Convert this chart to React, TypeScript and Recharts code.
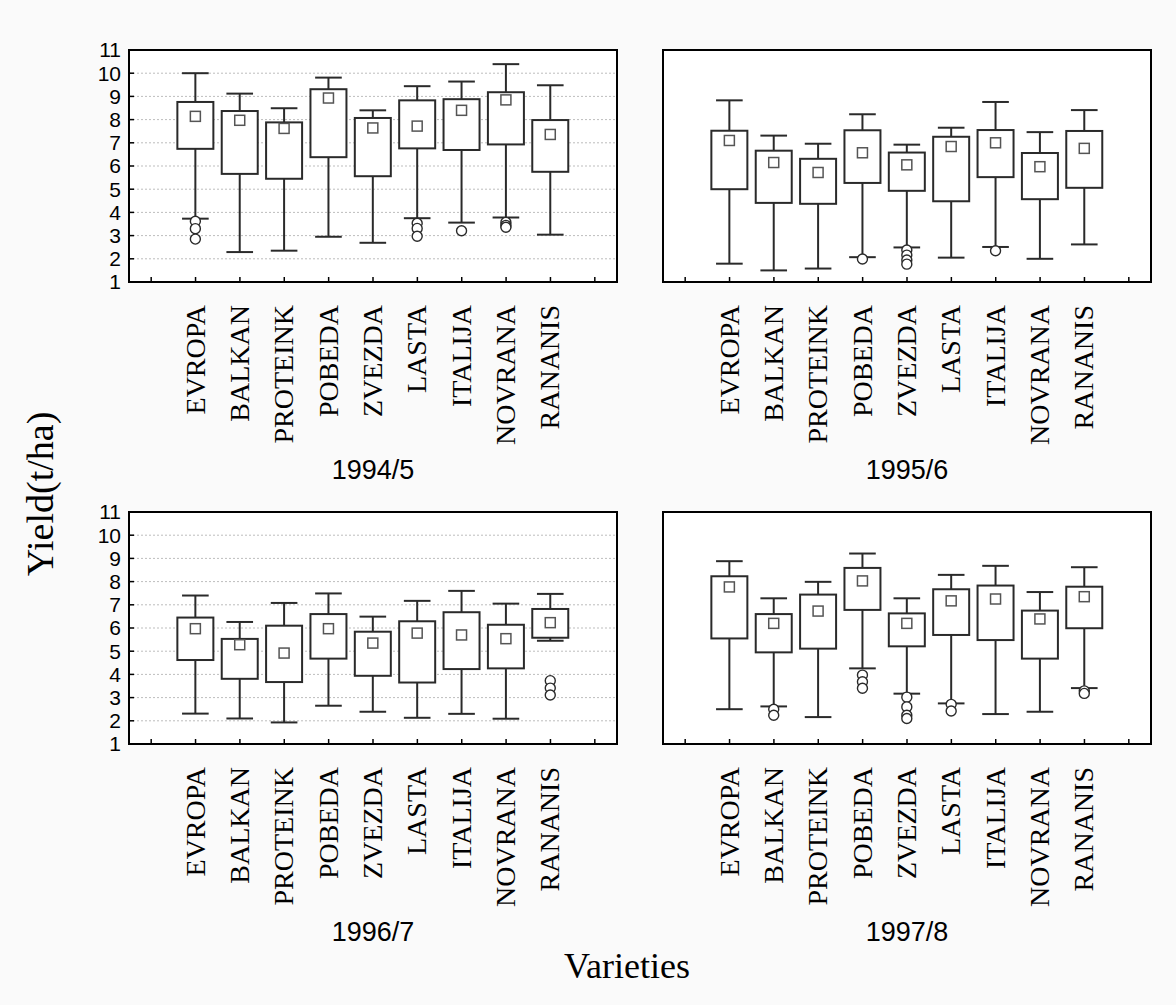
import React from 'react';
import { ComposedChart, Bar, XAxis, YAxis, CartesianGrid } from 'recharts';

const varieties = ['EVROPA', 'BALKAN', 'PROTEINK', 'POBEDA', 'ZVEZDA', 'LASTA', 'ITALIJA', 'NOVRANA', 'RANANIS'];
const seasons = ['1994/5', '1995/6', '1996/7', '1997/8'];
const yTicks = [1, 2, 3, 4, 5, 6, 7, 8, 9, 10, 11];

// one row per season, one value per variety
const whiskerHigh = [
  [10.0, 9.12, 8.49, 9.81, 8.4, 9.44, 9.64, 10.39, 9.48],
  [8.83, 7.31, 6.96, 8.23, 6.92, 7.65, 8.76, 7.46, 8.41],
  [7.4, 6.26, 7.08, 7.49, 6.49, 7.17, 7.6, 7.05, 7.47],
  [8.88, 7.28, 7.99, 9.21, 7.28, 8.29, 8.68, 7.55, 8.62],
];
const q3 = [
  [8.76, 8.37, 7.88, 9.31, 8.07, 8.83, 8.88, 9.18, 7.98],
  [7.52, 6.66, 6.31, 7.54, 6.58, 7.26, 7.55, 6.56, 7.51],
  [6.45, 5.53, 6.1, 6.6, 5.84, 6.29, 6.68, 6.14, 6.82],
  [8.23, 6.6, 7.44, 8.59, 6.63, 7.67, 7.83, 6.75, 7.78],
];
const means = [
  [8.14, 7.97, 7.62, 8.93, 7.64, 7.72, 8.4, 8.85, 7.36],
  [7.1, 6.15, 5.72, 6.57, 6.05, 6.84, 7.0, 5.97, 6.76],
  [5.97, 5.28, 4.92, 5.97, 5.35, 5.78, 5.7, 5.54, 6.23],
  [7.77, 6.2, 6.73, 8.03, 6.2, 7.17, 7.25, 6.39, 7.35],
];
const q1 = [
  [6.74, 5.66, 5.45, 6.38, 5.56, 6.76, 6.69, 6.93, 5.75],
  [5.0, 4.41, 4.37, 5.27, 4.93, 4.48, 5.52, 4.57, 5.06],
  [4.62, 3.81, 3.67, 4.68, 3.94, 3.65, 4.23, 4.26, 5.58],
  [5.55, 4.95, 5.11, 6.78, 5.21, 5.7, 5.48, 4.68, 5.99],
];
const whiskerLow = [
  [3.73, 2.29, 2.35, 2.95, 2.69, 3.75, 3.56, 3.78, 3.04],
  [1.79, 1.5, 1.58, 2.07, 2.49, 2.05, 2.51, 2.0, 2.62],
  [2.31, 2.1, 1.93, 2.65, 2.39, 2.13, 2.3, 2.09, 5.45],
  [2.5, 2.62, 2.16, 4.26, 3.17, 2.75, 2.29, 2.39, 3.41],
];
const outliers = [
  [[3.62, 3.3, 2.85], [], [], [], [], [3.53, 3.31, 2.97], [3.21], [3.57, 3.44, 3.36], []],
  [[], [], [], [1.99], [2.38, 2.16, 1.95, 1.77], [], [2.35], [], []],
  [[], [], [], [], [], [], [], [], [3.73, 3.41, 3.11]],
  [[], [2.5, 2.24], [], [3.97, 3.68, 3.4], [3.02, 2.6, 2.24, 2.1], [2.71, 2.42], [], [], [3.29, 3.18]],
];

const SANS = "'Liberation Sans', Arial, sans-serif";
const SERIF = "'Liberation Serif', 'Times New Roman', serif";
const INK = '#2a2a2a';

// empty category at each end, like the original axis
const buildRows = (s: number) => [
  { name: '' },
  ...varieties.map((v, i) => ({
    name: v,
    range: [whiskerLow[s][i], whiskerHigh[s][i]],
    q1: q1[s][i],
    q3: q3[s][i],
    mean: means[s][i],
    outliers: outliers[s][i],
  })),
  { name: ' ' },
];

const BoxShape = (props: any) => {
  const { x, y, width, height, payload } = props;
  if (!payload || !payload.range) return null;
  const [lo, hi] = payload.range;
  const top = Math.min(y, y + height);
  const h = Math.abs(height);
  const py = (v: number) => top + ((hi - v) * h) / (hi - lo);
  const cx = x + width / 2;
  const cap = width * 0.37;
  return (
    <g>
      <line x1={cx} x2={cx} y1={py(hi)} y2={py(payload.q3)} stroke={INK} strokeWidth={2} />
      <line x1={cx} x2={cx} y1={py(payload.q1)} y2={py(lo)} stroke={INK} strokeWidth={2} />
      <line x1={cx - cap} x2={cx + cap} y1={py(hi)} y2={py(hi)} stroke={INK} strokeWidth={2} />
      <line x1={cx - cap} x2={cx + cap} y1={py(lo)} y2={py(lo)} stroke={INK} strokeWidth={2} />
      <rect
        x={x}
        y={py(payload.q3)}
        width={width}
        height={py(payload.q1) - py(payload.q3)}
        fill="#fff"
        stroke={INK}
        strokeWidth={2}
      />
      <rect x={cx - 5} y={py(payload.mean) - 5} width={10} height={10} fill="#fff" stroke="#555" strokeWidth={1.5} />
      {payload.outliers.map((o: number, k: number) => (
        <circle key={k} cx={cx} cy={py(o)} r={5} fill="#fff" stroke={INK} strokeWidth={1.4} />
      ))}
    </g>
  );
};

const CategoryTick = (props: any) => {
  const { x, y, payload } = props;
  return (
    <text
      transform={`translate(${x + 9},${y}) rotate(-90)`}
      textAnchor="end"
      fontFamily={SERIF}
      fontSize={28}
      fill="#000"
    >
      {payload.value}
    </text>
  );
};

const frame = { stroke: '#000', strokeWidth: 2, strokeLinecap: 'square' as const };
const tickMark = { stroke: '#000', strokeWidth: 1.5 };

const Panel = ({ s, showY }: { s: number; showY: boolean }) => (
  <ComposedChart width={608} height={462} data={buildRows(s)} margin={{ top: 19, right: 9, bottom: 10, left: 50 }}>
    <CartesianGrid vertical={false} stroke="#bdbdbd" strokeDasharray="2 2" fill="#fff" />
    <XAxis
      dataKey="name"
      interval={0}
      height={200}
      tick={<CategoryTick />}
      tickSize={-5}
      tickMargin={28}
      axisLine={frame}
      tickLine={tickMark}
      stroke="#000"
    />
    <XAxis
      xAxisId="t"
      dataKey="name"
      orientation="top"
      height={1}
      interval={0}
      tick={false}
      tickSize={-5}
      axisLine={frame}
      tickLine={tickMark}
      stroke="#000"
    />
    <YAxis
      type="number"
      domain={[1, 11]}
      ticks={yTicks}
      interval={0}
      width={60}
      tick={showY ? { fill: '#000', fontSize: 21, fontFamily: SANS } : false}
      tickSize={-5}
      tickMargin={13}
      axisLine={frame}
      tickLine={tickMark}
      stroke="#000"
    />
    <YAxis
      yAxisId="r"
      orientation="right"
      type="number"
      domain={[1, 11]}
      ticks={yTicks}
      interval={0}
      width={1}
      tick={false}
      tickSize={-5}
      axisLine={frame}
      tickLine={tickMark}
      stroke="#000"
    />
    <Bar dataKey="range" barSize={36} shape={<BoxShape />} isAnimationActive={false} />
  </ComposedChart>
);

const spots = [
  { left: 19, top: 30 },
  { left: 553, top: 30 },
  { left: 19, top: 492 },
  { left: 553, top: 492 },
];
const titleSpots = [
  { x: 373, y: 479 },
  { x: 907, y: 479 },
  { x: 373, y: 941 },
  { x: 907, y: 941 },
];

export default function App() {
  return (
    <div style={{ position: 'absolute', left: 0, top: 0, width: 1176, height: 1005, background: '#fafafa' }}>
      {seasons.map((season, s) => (
        <div key={season} style={{ position: 'absolute', left: spots[s].left, top: spots[s].top }}>
          <Panel s={s} showY={s % 2 === 0} />
        </div>
      ))}
      <svg width={1176} height={1005} style={{ position: 'absolute', left: 0, top: 0, pointerEvents: 'none' }}>
        {seasons.map((season, s) => (
          <text key={season} x={titleSpots[s].x} y={titleSpots[s].y} textAnchor="middle" fontFamily={SANS} fontSize={27} fill="#000">
            {season}
          </text>
        ))}
        <text x={627} y={978} textAnchor="middle" fontFamily={SERIF} fontSize={36} fill="#000">
          Varieties
        </text>
        <text transform="translate(53,494) rotate(-90)" textAnchor="middle" fontFamily={SERIF} fontSize={38} fill="#000">
          Yield(t/ha)
        </text>
      </svg>
    </div>
  );
}
